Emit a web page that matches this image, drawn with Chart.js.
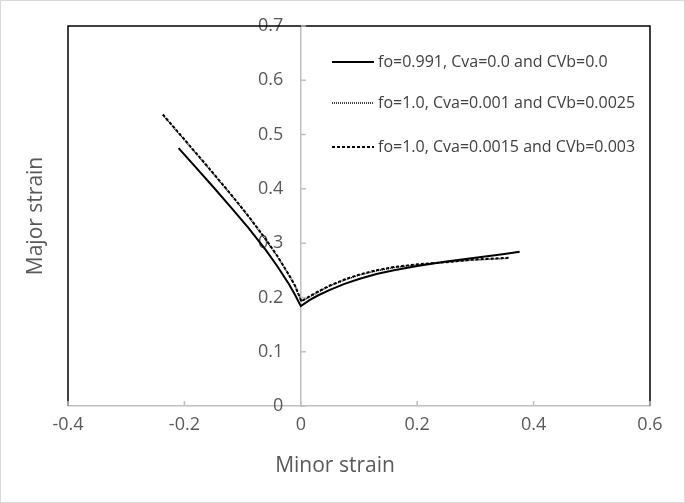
<html>
<head>
  <title>Major vs minor strain</title>
  <script src="https://cdn.jsdelivr.net/npm/chart.js"></script>
  <style>
    body { margin: 0; background: #fff; }
    .frame { width: 685px; height: 503px; box-sizing: border-box; border: 1px solid #d9d9d9; }
  </style>
</head>
<body>
  <div class="frame"><canvas id="myChart" width="683" height="501"></canvas></div>
  <script>
    // 三條曲線的資料 (minor strain, major strain)
    const seriesNames = [
      'fo=0.991, Cva=0.0 and CVb=0.0',
      'fo=1.0, Cva=0.001 and CVb=0.0025',
      'fo=1.0, Cva=0.0015 and CVb=0.003'
    ];
    const minorSolid = [-0.210, -0.180, -0.150, -0.120, -0.090, -0.060, -0.040, -0.020, -0.010, 0.000, 0.015, 0.030, 0.050, 0.075, 0.100, 0.130, 0.160, 0.200, 0.250, 0.300, 0.350, 0.376];
    const majorSolid = [0.475, 0.439, 0.403, 0.366, 0.328, 0.287, 0.257, 0.224, 0.205, 0.184, 0.195, 0.204, 0.214, 0.225, 0.234, 0.243, 0.250, 0.258, 0.266, 0.273, 0.280, 0.284];
    const minorDotted = [-0.237, -0.200, -0.160, -0.120, -0.090, -0.060, -0.040, -0.020, -0.010, 0.001, 0.015, 0.030, 0.050, 0.075, 0.100, 0.130, 0.160, 0.200, 0.250, 0.300, 0.356];
    const majorDotted = [0.536, 0.490, 0.440, 0.389, 0.349, 0.306, 0.275, 0.240, 0.221, 0.193, 0.201, 0.210, 0.221, 0.232, 0.241, 0.249, 0.255, 0.260, 0.265, 0.269, 0.272];
    const minorDashed = [-0.237, -0.200, -0.160, -0.120, -0.090, -0.060, -0.040, -0.020, -0.010, 0.001, 0.015, 0.030, 0.050, 0.075, 0.100, 0.130, 0.160, 0.200, 0.250, 0.300, 0.357];
    const majorDashed = [0.537, 0.491, 0.441, 0.390, 0.350, 0.307, 0.276, 0.241, 0.222, 0.193, 0.202, 0.211, 0.222, 0.233, 0.242, 0.250, 0.256, 0.261, 0.265, 0.270, 0.273];
    const xTickStep = 0.2;
    const yTickStep = 0.1;

    const FONT = '"Open Sans", sans-serif';
    const pts = (xs, ys) => xs.map((x, i) => ({ x: x, y: ys[i] }));

    // 外框(左、上、右)、向內的刻度、x 軸標題、圖例
    const decor = {
      id: 'decor',
      afterDraw(chart) {
        const { ctx, chartArea: a, scales } = chart;
        ctx.save();
        ctx.strokeStyle = '#000';
        ctx.lineWidth = 1.5;
        ctx.beginPath();
        ctx.moveTo(a.left, a.bottom);
        ctx.lineTo(a.left, a.top);
        ctx.lineTo(a.right, a.top);
        ctx.lineTo(a.right, a.bottom);
        ctx.stroke();

        ctx.strokeStyle = '#bfbfbf';
        ctx.lineWidth = 1.5;
        ctx.beginPath();
        scales.x.ticks.forEach(t => {
          const px = scales.x.getPixelForValue(t.value);
          ctx.moveTo(px, a.bottom);
          ctx.lineTo(px, a.bottom - 5);
        });
        const y0 = scales.x.getPixelForValue(0);
        scales.y2.ticks.forEach(t => {
          const py = scales.y2.getPixelForValue(t.value);
          ctx.moveTo(y0, py);
          ctx.lineTo(y0 + 5, py);
        });
        ctx.stroke();

        ctx.fillStyle = '#595959';
        ctx.font = '21px ' + FONT;
        ctx.textAlign = 'center';
        ctx.textBaseline = 'middle';
        ctx.fillText('Minor strain', 334, 465);

        // 圖例
        const lx = a.right - 318;
        const rows = [36, 77, 121];
        ctx.font = '16px ' + FONT;
        ctx.textAlign = 'left';
        chart.data.datasets.forEach((ds, i) => {
          const ly = a.top + rows[i];
          ctx.strokeStyle = '#000';
          ctx.lineWidth = ds.borderWidth;
          ctx.setLineDash(ds.borderDash || []);
          ctx.beginPath();
          ctx.moveTo(lx, ly);
          ctx.lineTo(lx + 42, ly);
          ctx.stroke();
          ctx.setLineDash([]);
          ctx.fillStyle = '#404040';
          ctx.fillText(ds.label, lx + 46, ly);
        });
        ctx.restore();
      }
    };

    const ctx = document.getElementById('myChart').getContext('2d');
    const myChart = new Chart(ctx, {
      type: 'scatter',
      data: {
        datasets: [
          { label: seriesNames[0], data: pts(minorSolid, majorSolid), borderColor: '#000', borderWidth: 2, yAxisID: 'y2' },
          { label: seriesNames[1], data: pts(minorDotted, majorDotted), borderColor: '#000', borderWidth: 1.5, borderDash: [1, 1], yAxisID: 'y2' },
          { label: seriesNames[2], data: pts(minorDashed, majorDashed), borderColor: '#000', borderWidth: 2, borderDash: [3, 2], yAxisID: 'y2' }
        ]
      },
      options: {
        responsive: false,
        animation: false,
        showLine: true,
        elements: { point: { radius: 0 }, line: { tension: 0 } },
        layout: { padding: { top: 25, right: 34, left: 0, bottom: 0 } },
        plugins: { legend: { display: false }, tooltip: { enabled: false } },
        scales: {
          x: {
            type: 'linear', position: 'bottom', min: -0.4, max: 0.6,
            ticks: { stepSize: xTickStep, color: '#595959', font: { family: FONT, size: 18 }, padding: 8 },
            grid: { display: false, drawTicks: false },
            border: { color: '#bfbfbf', width: 1.5 },
            afterFit: s => { s.height = 96; }
          },
          y: {
            type: 'linear', position: 'left', min: 0, max: 0.7,
            ticks: { display: false },
            grid: { display: false, drawTicks: false },
            border: { display: false },
            title: { display: true, text: 'Major strain', color: '#595959', font: { family: FONT, size: 21 }, padding: { top: 22, bottom: 0 } },
            afterFit: s => { s.width = 67; }
          },
          // 在 x=0 的縱軸線
          y2: {
            type: 'linear', position: { x: 0 }, min: 0, max: 0.7,
            ticks: { stepSize: yTickStep, display: false },
            grid: { display: false, drawTicks: false },
            border: { color: '#bfbfbf', width: 1.5 }
          },
          // 縱軸刻度文字,放在軸線左邊一點
          y3: {
            type: 'linear', position: { x: -0.03 }, min: 0, max: 0.7,
            ticks: { stepSize: yTickStep, color: '#595959', font: { family: FONT, size: 18 } },
            grid: { display: false, drawTicks: false },
            border: { display: false }
          }
        }
      },
      plugins: [decor]
    });
  </script>
</body>
</html>
